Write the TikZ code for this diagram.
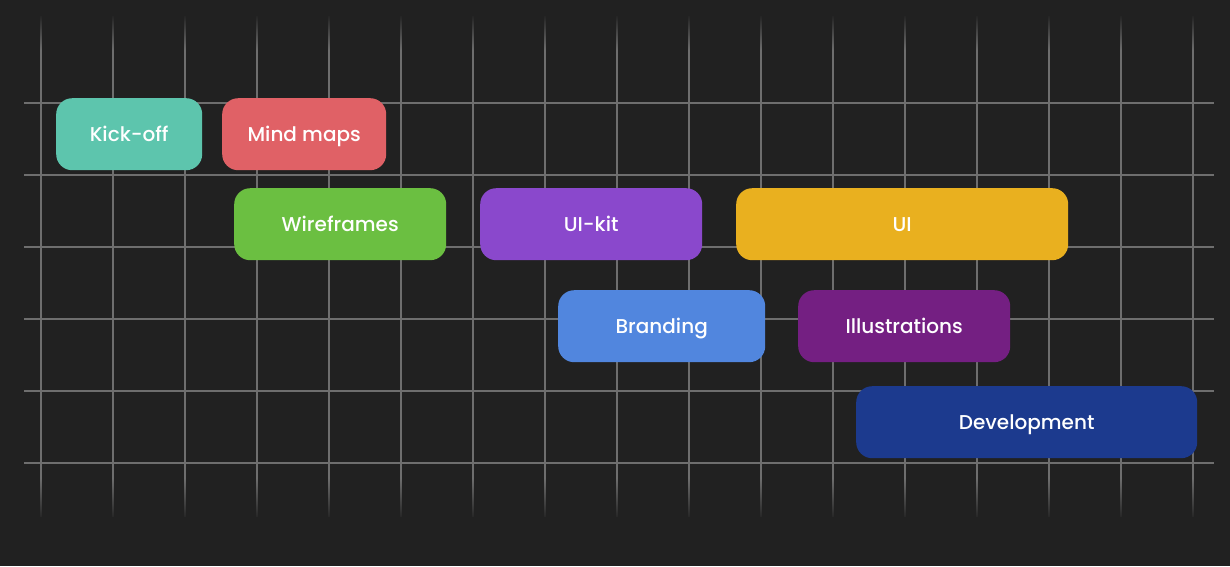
\documentclass[tikz,border=0pt]{standalone}
\usepackage{fontspec}
\setmainfont{Poppins}[UprightFont=* Medium]
\usetikzlibrary{fadings}
\definecolor{bgc}{HTML}{212121}
\definecolor{gridc}{HTML}{6E6E6E}
\definecolor{ckick}{HTML}{5DC5AD}
\definecolor{cmind}{HTML}{E06166}
\definecolor{cwire}{HTML}{6BBF41}
\definecolor{cuikit}{HTML}{8A48CC}
\definecolor{cui}{HTML}{E9B01F}
\definecolor{cbrand}{HTML}{5186DE}
\definecolor{cillu}{HTML}{741F82}
\definecolor{cdev}{HTML}{1C3A8E}
\tikzset{
  task/.style={rectangle, rounded corners=16pt, draw=none, inner sep=0pt,
    anchor=north west, minimum height=72pt, text=white,
    text height=14pt, text depth=0pt,
    font=\fontsize{20}{24}\selectfont},
  gridline/.style={draw=gridc, line width=1.4pt}
}
\begin{document}
\begin{tikzpicture}[x=1pt,y=-1pt]
\useasboundingbox (0,0) rectangle (1230,566);
\fill[bgc] (0,0) rectangle (1230,566);
% grid
\foreach \i in {0,...,16}{
  \draw[gridline] (41+72*\i,16) -- (41+72*\i,517);
}
\foreach \j in {0,...,5}{
  \draw[gridline] (24,103+72*\j) -- (1214,103+72*\j);
}
% fade grid ends
\fill[bgc, path fading=south] (0,14) rectangle (1230,50);
\fill[bgc, path fading=north] (0,478) rectangle (1230,520);
% tasks
\node[task, fill=ckick,  minimum width=146pt] (kick)  at (56,98)   {Kick-off};
\node[task, fill=cmind,  minimum width=164pt] (mind)  at (222,98)  {Mind maps};
\node[task, fill=cwire,  minimum width=212pt] (wire)  at (234,188) {Wireframes};
\node[task, fill=cuikit, minimum width=222pt] (uikit) at (480,188) {UI-kit};
\node[task, fill=cui,    minimum width=332pt] (ui)    at (736,188) {UI};
\node[task, fill=cbrand, minimum width=207pt] (brand) at (558,290) {Branding};
\node[task, fill=cillu,  minimum width=212pt] (illu)  at (798,290) {Illustrations};
\node[task, fill=cdev,   minimum width=341pt] (dev)   at (856,386) {Development};
\end{tikzpicture}
\end{document}
